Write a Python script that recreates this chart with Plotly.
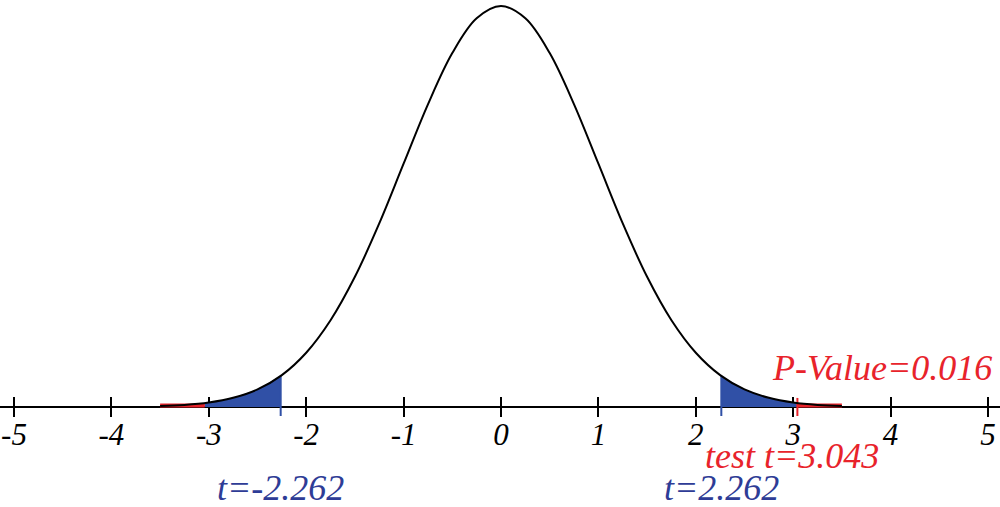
import plotly.graph_objects as go

# Curve (density heights at t positions)
curve_t = [-3.5, -3.25, -3.0, -2.75, -2.5, -2.25, -2.0, -1.75, -1.5, -1.25, -1.0, -0.75, -0.5, -0.25,
           0.0, 0.25, 0.5, 0.75, 1.0, 1.25, 1.5, 1.75, 2.0, 2.25, 2.5, 2.75, 3.0, 3.25, 3.5]
curve_d = [0.0009, 0.0020, 0.0044, 0.0091, 0.0175, 0.0317, 0.0540, 0.0863, 0.1295, 0.1826, 0.2420, 0.3011, 0.3521, 0.3867,
           0.3989, 0.3867, 0.3521, 0.3011, 0.2420, 0.1826, 0.1295, 0.0863, 0.0540, 0.0317, 0.0175, 0.0091, 0.0044, 0.0020, 0.0009]

crit_t = 2.262
crit_d = 0.0310
test_t = 3.043
test_d = 0.0039
tail_end = 3.5

tick_vals = [-5, -4, -3, -2, -1, 0, 1, 2, 3, 4, 5]
tick_text = ["-5", "-4", "-3", "-2", "-1", "0", "1", "2", "3", "4", "5"]

crit_labels = ["t=-2.262", "t=2.262"]
test_label = "test t=3.043"
pval_label = "P-Value=0.016"

BLUE_FILL = "#3050A6"
BLUE_TEXT = "#2E3C96"
RED = "#E8232B"


def region(lo, lo_d, hi, hi_d):
    xs = [lo, lo]
    ys = [0, lo_d]
    for t, d in zip(curve_t, curve_d):
        if lo < t < hi:
            xs.append(t)
            ys.append(d)
    xs += [hi, hi, lo]
    ys += [hi_d, 0, 0]
    return xs, ys


fig = go.Figure()

for sgn in (1, -1):
    if sgn == 1:
        xs, ys = region(crit_t, crit_d, test_t, test_d)
    else:
        xs, ys = region(-test_t, test_d, -crit_t, crit_d)
    fig.add_trace(go.Scatter(x=xs, y=ys, fill="toself", fillcolor=BLUE_FILL, mode="lines",
                             line=dict(width=0), hoverinfo="skip", showlegend=False))
    if sgn == 1:
        xs, ys = region(test_t, test_d, tail_end, curve_d[-1])
    else:
        xs, ys = region(-tail_end, curve_d[0], -test_t, test_d)
    fig.add_trace(go.Scatter(x=xs, y=ys, fill="toself", fillcolor=RED, mode="lines",
                             line=dict(width=0), hoverinfo="skip", showlegend=False))
    fig.add_trace(go.Scatter(x=[sgn * test_t, sgn * tail_end], y=[0.0015, 0.0015], mode="lines",
                             line=dict(color=RED, width=4), hoverinfo="skip", showlegend=False))
    fig.add_trace(go.Scatter(x=[sgn * crit_t, sgn * crit_t], y=[-0.009, crit_d], mode="lines",
                             line=dict(color=BLUE_FILL, width=2), hoverinfo="skip", showlegend=False))

fig.add_trace(go.Scatter(x=[test_t, test_t], y=[-0.009, 0.009], mode="lines",
                         line=dict(color=RED, width=2), hoverinfo="skip", showlegend=False))

fig.add_trace(go.Scatter(x=curve_t, y=curve_d, mode="lines", line=dict(color="black", width=2, shape="spline"),
                         hoverinfo="skip", showlegend=False))

ax_pos = 100 / 507
xr = [-5.1437, 5.1232]
fig.update_layout(
    width=1000, height=507,
    margin=dict(l=0, r=0, t=0, b=0, autoexpand=False),
    paper_bgcolor="white", plot_bgcolor="white",
    xaxis=dict(range=xr, anchor="free", position=ax_pos, automargin=False,
               showgrid=False, zeroline=False, showline=True, linecolor="black", linewidth=2,
               ticks="inside", ticklen=9, tickwidth=2, tickcolor="black",
               tickvals=tick_vals, ticktext=tick_text,
               tickfont=dict(family="Liberation Serif", size=31, color="black", style="italic"),
               layer="below traces"),
    xaxis2=dict(range=xr, overlaying="x", anchor="free", position=ax_pos, automargin=False,
                showgrid=False, zeroline=False, showline=False,
                ticks="outside", ticklen=9, tickwidth=2, tickcolor="black",
                tickvals=tick_vals, showticklabels=False, layer="below traces"),
    yaxis=dict(range=[-0.0995, 0.4049], visible=False, showgrid=False, zeroline=False, automargin=False),
)
fig.add_trace(go.Scatter(x=[0], y=[0], xaxis="x2", mode="markers", marker=dict(opacity=0),
                         hoverinfo="skip", showlegend=False))

font_big = dict(family="Liberation Serif", size=36, style="italic")
fig.add_annotation(x=-crit_t, y=1 - 488 / 507, xref="x", yref="paper", text=crit_labels[0],
                   showarrow=False, font=dict(color=BLUE_TEXT, **font_big), xanchor="center", yanchor="middle")
fig.add_annotation(x=crit_t, y=1 - 488 / 507, xref="x", yref="paper", text=crit_labels[1],
                   showarrow=False, font=dict(color=BLUE_TEXT, **font_big), xanchor="center", yanchor="middle")
fig.add_annotation(x=0.792, y=1 - 456 / 507, xref="paper", yref="paper", text=test_label,
                   showarrow=False, font=dict(color=RED, **font_big), xanchor="center", yanchor="middle")
fig.add_annotation(x=0.994, y=1 - 368 / 507, xref="paper", yref="paper", text=pval_label,
                   showarrow=False, font=dict(color=RED, **font_big), xanchor="right", yanchor="middle")

fig.write_html("out.html", config={"displayModeBar": False},
               post_script="document.body.style.margin='0px';document.body.style.padding='0px';")
